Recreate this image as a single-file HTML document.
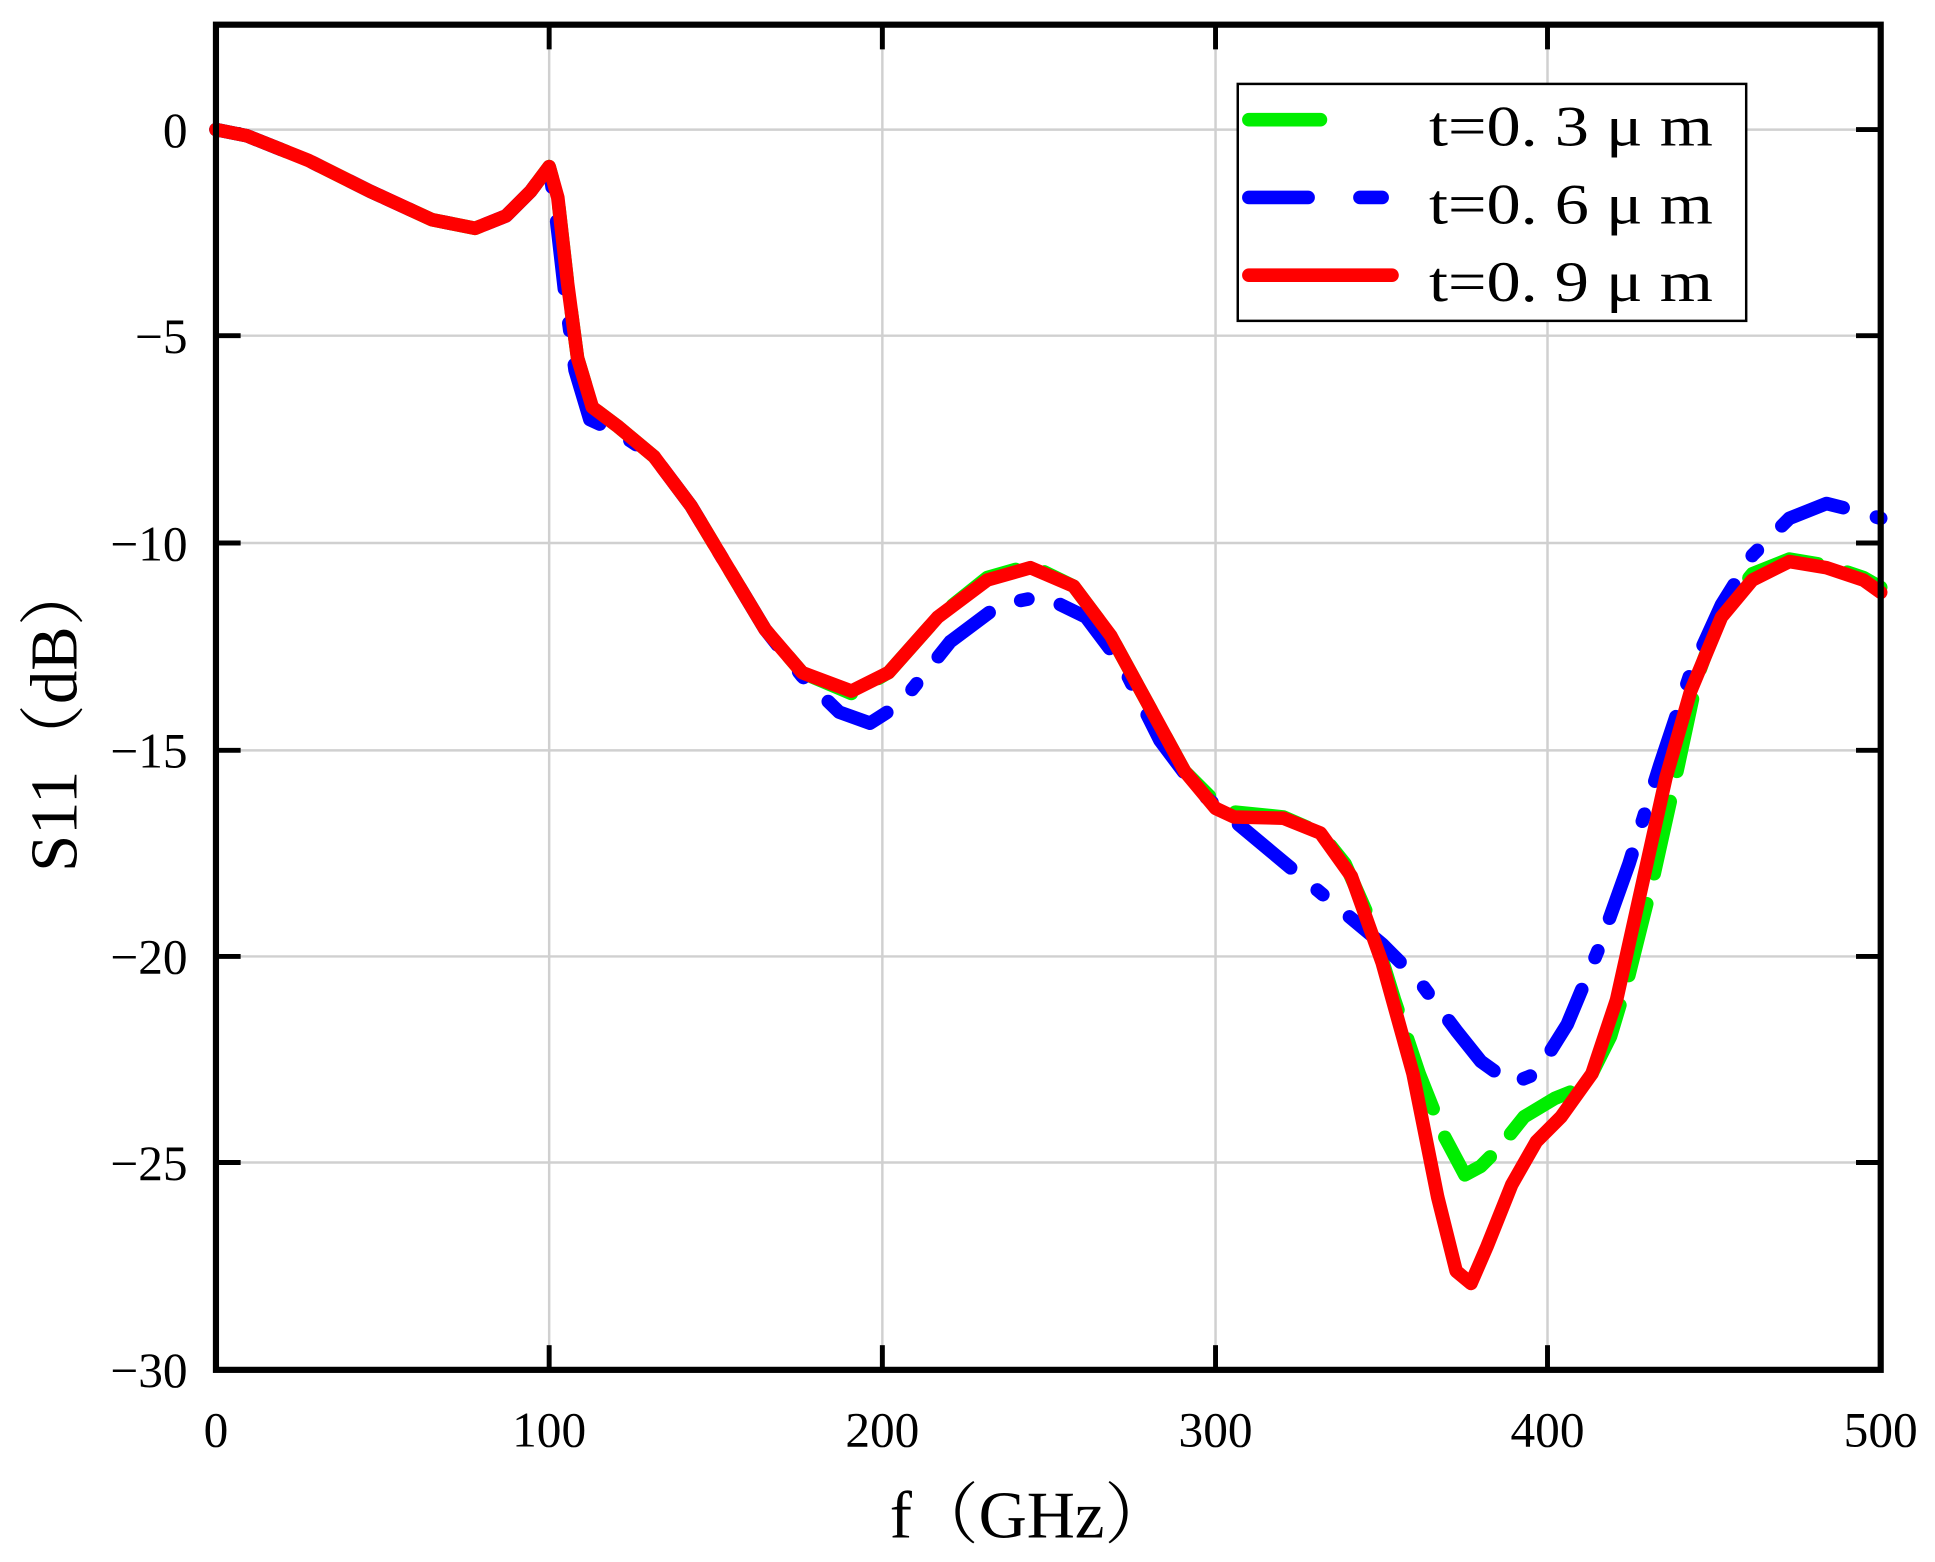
<!DOCTYPE html>
<html><head><meta charset="utf-8"><style>html,body{margin:0;padding:0;background:#fff}svg{display:block}</style></head>
<body>
<svg width="1935" height="1562" viewBox="0 0 1568 1265.7" preserveAspectRatio="none" xmlns="http://www.w3.org/2000/svg" font-family="'Liberation Serif','Noto Serif CJK SC',serif">
<rect width="1568" height="1266" fill="#fff"/>
<g stroke="#d0d0d0" stroke-width="2">
<line x1="445" y1="20" x2="445" y2="1110"/><line x1="715" y1="20" x2="715" y2="1110"/><line x1="985" y1="20" x2="985" y2="1110"/><line x1="1254" y1="20" x2="1254" y2="1110"/>
<line x1="175" y1="105" x2="1524" y2="105"/><line x1="175" y1="272" x2="1524" y2="272"/><line x1="175" y1="440" x2="1524" y2="440"/><line x1="175" y1="608" x2="1524" y2="608"/><line x1="175" y1="775" x2="1524" y2="775"/><line x1="175" y1="942" x2="1524" y2="942"/>
</g>
<g stroke="#000" stroke-width="4">
<line x1="445" y1="20" x2="445" y2="40"/><line x1="715" y1="20" x2="715" y2="40"/><line x1="985" y1="20" x2="985" y2="40"/><line x1="1254" y1="20" x2="1254" y2="40"/>
<line x1="445" y1="1110" x2="445" y2="1090"/><line x1="715" y1="1110" x2="715" y2="1090"/><line x1="985" y1="1110" x2="985" y2="1090"/><line x1="1254" y1="1110" x2="1254" y2="1090"/>
<line x1="175" y1="105" x2="195" y2="105"/><line x1="175" y1="272" x2="195" y2="272"/><line x1="175" y1="440" x2="195" y2="440"/><line x1="175" y1="608" x2="195" y2="608"/><line x1="175" y1="775" x2="195" y2="775"/><line x1="175" y1="942" x2="195" y2="942"/>
<line x1="1524" y1="105" x2="1504" y2="105"/><line x1="1524" y1="272" x2="1504" y2="272"/><line x1="1524" y1="440" x2="1504" y2="440"/><line x1="1524" y1="608" x2="1504" y2="608"/><line x1="1524" y1="775" x2="1504" y2="775"/><line x1="1524" y1="942" x2="1504" y2="942"/>
</g>
<g fill="none" stroke-width="11" stroke-linecap="round" stroke-linejoin="round">
<path stroke="#00ee00" stroke-dasharray="60 25" d="M175,105 L200,110 L250,130 L300,155 L350,178 L385,185 L410,175 L430,155 L445,135 L452,160 L460,230 L468,290 L480,330 L500,345 L530,370 L560,410 L590,460 L620,510 L650,545 L690,562 L720,545 L760,500 L800,468 L835,458 L870,475 L900,515 L930,570 L960,625 L985,650 L1000,658 L1040,662 L1070,675 L1090,700 L1110,745 L1130,810 L1150,870 L1170,920 L1187,952 L1200,945 L1215,930 L1235,905 L1260,890 L1285,880 L1305,840 L1320,790 L1340,710 L1360,620 L1375,550 L1395,495 L1420,465 L1450,453 L1480,458 L1510,468 L1524,476"/>
<path stroke="#0000ff" stroke-dasharray="55 28 6 28" d="M175,105 L200,110 L250,130 L300,155 L350,178 L385,185 L410,175 L430,155 L445,135 L450,170 L458,240 L466,300 L478,340 L500,350 L530,370 L560,410 L590,460 L620,510 L650,548 L680,577 L705,586 L730,570 L770,520 L810,490 L845,483 L880,500 L910,540 L940,600 L970,640 L1000,665 L1030,690 L1060,715 L1090,740 L1120,765 L1150,795 L1180,835 L1200,860 L1225,878 L1245,870 L1270,830 L1295,770 L1320,700 L1345,620 L1370,545 L1395,490 L1420,450 L1450,420 L1480,408 L1500,413 L1524,420"/>
<path stroke="#ff0000" d="M175,105 L200,110 L250,130 L300,155 L350,178 L385,185 L410,175 L430,155 L445,135 L452,160 L460,230 L468,290 L480,330 L500,345 L530,370 L560,410 L590,460 L620,510 L650,545 L690,560 L720,545 L760,500 L800,470 L835,460 L870,475 L900,515 L930,570 L960,625 L985,655 L1000,662 L1040,663 L1070,675 L1095,710 L1120,780 L1145,870 L1165,970 L1180,1030 L1192,1040 L1205,1010 L1225,960 L1245,925 L1265,905 L1290,870 L1310,810 L1330,720 L1350,630 L1370,560 L1395,500 L1420,470 L1450,455 L1480,460 L1510,470 L1524,480"/>
</g>
<rect x="175" y="20" width="1349" height="1090" fill="none" stroke="#000" stroke-width="5"/>
<rect x="1003" y="68" width="412" height="192" fill="#fff" stroke="#000" stroke-width="2"/>
<g stroke-width="11" stroke-linecap="round">
<line x1="1012" y1="97" x2="1070" y2="97" stroke="#00ee00"/>
<line x1="1012" y1="160" x2="1060" y2="160" stroke="#0000ff"/><line x1="1102" y1="160" x2="1120" y2="160" stroke="#0000ff"/>
<line x1="1012" y1="223" x2="1128" y2="223" stroke="#ff0000"/>
</g>
<g font-size="46" fill="#000">
<text x="1158" y="118" textLength="230" lengthAdjust="spacingAndGlyphs">t=0. 3 μ m</text>
<text x="1158" y="181" textLength="230" lengthAdjust="spacingAndGlyphs">t=0. 6 μ m</text>
<text x="1158" y="244" textLength="230" lengthAdjust="spacingAndGlyphs">t=0. 9 μ m</text>
</g>
<g font-size="40" fill="#000" text-anchor="end">
<text x="152" y="119">0</text><text x="152" y="286">−5</text><text x="152" y="454">−10</text><text x="152" y="622">−15</text><text x="152" y="789">−20</text><text x="152" y="956">−25</text><text x="152" y="1124">−30</text>
</g>
<g font-size="40" fill="#000" text-anchor="middle">
<text x="175" y="1172">0</text><text x="445" y="1172">100</text><text x="715" y="1172">200</text><text x="985" y="1172">300</text><text x="1254" y="1172">400</text><text x="1524" y="1172">500</text>
</g>
<text x="835" y="1246" font-size="54" text-anchor="middle" fill="#000">f（GHz）</text>
<text transform="translate(62,580) rotate(-90)" font-size="54" text-anchor="middle" fill="#000">S11（dB）</text>
</svg>
</body></html>
